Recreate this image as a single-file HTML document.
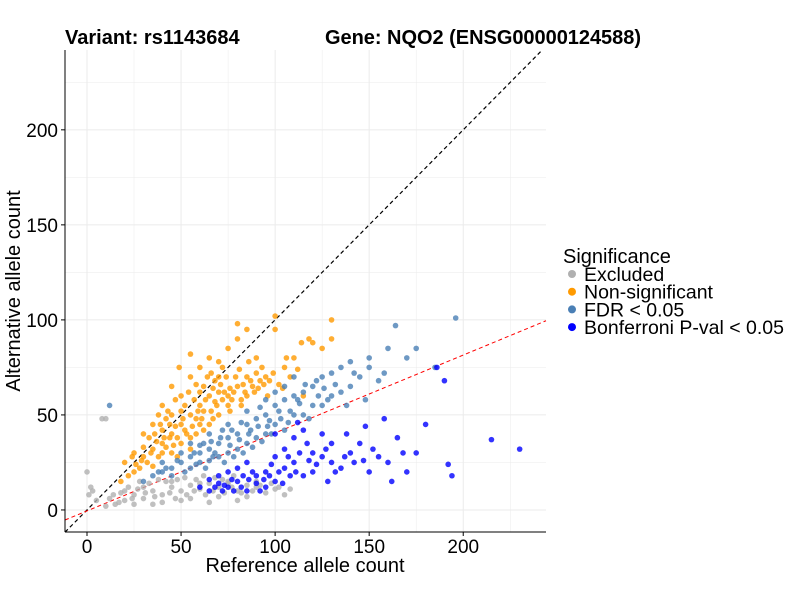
<!DOCTYPE html>
<html><head><meta charset="utf-8"><style>
body{margin:0;background:#fff;font-family:"Liberation Sans",sans-serif}
svg text{font-family:"Liberation Sans",sans-serif}
</style></head><body>
<svg id="c" width="800" height="600">
<text x="65" y="44" font-size="20" font-weight="bold">Variant: rs1143684</text>
<text x="325" y="44" font-size="20" font-weight="bold" textLength="316">Gene: NQO2 (ENSG00000124588)</text>
<g id="grid"></g><g id="lines"></g><g id="pts"></g><g id="axes"></g>
<text x="305" y="572" font-size="20" text-anchor="middle">Reference allele count</text>
<text transform="translate(20,291) rotate(-90)" font-size="20" text-anchor="middle">Alternative allele count</text>
<g id="legend"></g>
</svg>
<script>
const xTicks=[0,50,100,150,200];
const yTicks=[0,50,100,150,200];
const legendLabels=["Excluded","Non-significant","FDR < 0.05","Bonferroni P-val < 0.05"];
const colors=["#b0b0b0","#ff9a00","#4a7fb5","#0000ff"];
const excluded=[[0,20],[2,12],[1,8],[5,5],[10,2],[15,3],[20,5],[25,8],[30,6],[35,10],[40,8],[45,12],[50,10],[55,13],[60,11],[65,14],[70,12],[75,15],[80,10],[85,13],[90,12],[95,9],[100,11],[105,8],[22,12],[28,15],[33,14],[38,16],[42,15],[48,16],[52,17],[58,16],[62,18],[68,17],[72,16],[78,18],[18,9],[12,6],[8,48],[10,48],[3,10],[25,3],[40,4],[55,6],[70,7],[85,7],[17,4],[24,6],[31,9],[36,7],[44,9],[47,6],[53,8],[57,10],[63,8],[67,10],[73,9],[77,12],[82,9],[88,10],[92,13],[98,14],[102,12],[108,11],[30,12],[45,15],[60,14],[75,14],[90,15],[50,5],[65,4],[80,5],[35,3],[20,10],[14,8],[27,11]];
const nonsig=[[20,25],[25,30],[30,40],[35,45],[40,55],[45,50],[50,60],[55,70],[60,75],[65,80],[70,70],[75,85],[80,90],[85,95],[90,80],[95,70],[100,95],[105,75],[110,80],[120,88],[125,85],[130,90],[40,35],[45,40],[50,45],[55,50],[60,55],[65,60],[70,62],[75,60],[80,65],[85,70],[90,72],[30,28],[35,32],[40,42],[45,30],[50,35],[55,38],[60,45],[28,22],[32,25],[38,28],[42,33],[48,38],[52,42],[58,48],[62,52],[68,57],[72,58],[78,62],[82,58],[88,65],[92,68],[96,60],[55,82],[49,75],[45,65],[38,50],[33,38],[25,20],[22,18],[18,15],[100,102],[80,98],[130,100],[115,60],[108,70],[65,45],[70,50],[75,55],[85,60],[48,28],[58,40],[62,65],[72,75],[68,68],[52,55],[35,23],[42,48],[30,33],[36,40],[41,38],[44,45],[46,34],[51,48],[53,40],[56,44],[57,58],[59,52],[61,48],[63,58],[64,70],[66,52],[67,64],[69,55],[71,66],[73,62],[74,70],[76,64],[77,58],[79,70],[81,74],[83,66],[84,62],[86,78],[87,68],[89,62],[91,64],[93,75],[94,66],[97,68],[99,72],[102,66],[104,64],[106,80],[112,74],[114,88],[118,90],[43,52],[47,58],[39,45],[37,36],[34,30],[29,26],[26,24],[24,28],[47,44],[54,62],[60,62],[66,72],[70,78],[58,66],[50,52],[44,38],[40,30],[55,32],[62,42],[67,48],[76,52],[82,55]];
const fdr=[[30,15],[35,18],[40,20],[45,22],[50,25],[55,28],[60,30],[65,32],[70,35],[75,38],[80,40],[85,45],[90,48],[95,50],[100,55],[105,58],[110,60],[115,62],[120,65],[125,70],[130,72],[135,75],[140,78],[150,80],[160,85],[164,97],[196,101],[40,25],[50,30],[60,25],[70,28],[80,32],[90,38],[100,45],[110,50],[120,55],[130,60],[140,65],[55,22],[65,26],[75,30],[85,35],[95,40],[105,42],[115,50],[125,55],[135,62],[145,70],[150,75],[170,80],[45,18],[55,35],[65,40],[75,45],[85,52],[95,58],[100,62],[110,70],[12,55],[62,35],[72,42],[82,46],[92,54],[105,65],[118,48],[128,58],[138,55],[155,68],[175,85],[185,75],[52,20],[58,24],[63,22],[68,30],[73,25],[78,28],[83,30],[88,33],[93,36],[98,40],[103,48],[108,52],[113,56],[123,60],[60,34],[66,36],[71,38],[77,42],[81,37],[87,42],[91,44],[97,47],[102,52],[107,46],[112,58],[122,68],[132,66],[142,72],[48,26],[42,22],[38,20],[57,30],[67,28],[86,40],[96,44],[76,34],[116,66],[126,64],[148,58],[158,72]];
const bonf=[[60,12],[65,10],[70,14],[75,12],[80,15],[85,10],[90,18],[95,20],[100,15],[105,22],[110,25],[115,18],[120,20],[125,28],[130,25],[135,22],[140,30],[145,35],[150,20],[155,28],[160,25],[165,38],[170,20],[175,30],[180,45],[186,75],[190,68],[192,24],[194,18],[215,37],[230,32],[70,18],[75,20],[80,22],[85,25],[90,14],[95,12],[100,28],[105,32],[110,38],[115,42],[120,30],[125,40],[130,35],[65,16],[78,10],[88,20],[98,24],[108,18],[118,26],[128,15],[138,40],[148,44],[158,48],[168,30],[100,40],[112,46],[142,25],[162,15],[68,12],[72,10],[82,12],[86,16],[92,10],[94,16],[97,18],[102,20],[104,14],[107,28],[111,20],[113,30],[117,35],[122,24],[127,32],[132,20],[137,28],[147,26],[152,32],[83,18],[77,16],[73,13]];
const NS="http://www.w3.org/2000/svg";
const L=65,R=546,T=50,B=532,xmin=-11.7,xmax=244,ymin=-11.6,ymax=242;
const sx=v=>L+(v-xmin)/(xmax-xmin)*(R-L);
const sy=v=>B-(v-ymin)/(ymax-ymin)*(B-T);
function mk(tag,a,p){const e=document.createElementNS(NS,tag);for(const k in a)e.setAttribute(k,a[k]);document.getElementById(p).appendChild(e);return e;}
for(let v=0;v<=240;v+=25){
 const w=v%50?0.5:1;
 let g=mk('line',{x1:sx(v),x2:sx(v),y1:T,y2:B,stroke:'#ebebeb','stroke-width':w},'grid');
 
 
 g=mk('line',{x1:L,x2:R,y1:sy(v),y2:sy(v),stroke:'#ebebeb','stroke-width':w},'grid');
 
 
}
let d=mk('line',{x1:sx(xmin),y1:sy(xmin),x2:sx(ymax),y2:sy(ymax),stroke:'#000','stroke-dasharray':'4,3','stroke-width':1.2},'lines');


d=mk('line',{x1:sx(xmin),y1:sy(-0.5+0.41*xmin),x2:sx(xmax),y2:sy(-0.5+0.41*xmax),stroke:'#ff0000','stroke-dasharray':'4,3','stroke-width':1},'lines');


const series=[excluded,nonsig,fdr,bonf];
const names=['excluded-point','nonsig-point','fdr-point','bonferroni-point'];
series.forEach((s,i)=>s.forEach(p=>{
 const c=mk('circle',{cx:sx(p[0]),cy:sy(p[1]),r:2.8,fill:colors[i],'fill-opacity':0.8},'pts');
 
 
}));
let a=mk('line',{x1:L,x2:L,y1:T,y2:B,stroke:'#000','stroke-width':1},'axes');


a=mk('line',{x1:L,x2:R,y1:B,y2:B,stroke:'#000','stroke-width':1},'axes');


xTicks.forEach(v=>{
 mk('line',{x1:sx(v),x2:sx(v),y1:B,y2:B+4,stroke:'#000'},'axes');
 const t=mk('text',{x:sx(v),y:B+21,'font-size':19,'text-anchor':'middle'},'axes');t.textContent=v;
 
 
});
yTicks.forEach(v=>{
 mk('line',{x1:L-4,x2:L,y1:sy(v),y2:sy(v),stroke:'#000'},'axes');
 const t=mk('text',{x:L-7,y:sy(v)+7,'font-size':19,'text-anchor':'end'},'axes');t.textContent=v;
 
 
});
let lt=mk('text',{x:563,y:263,'font-size':20},'legend');lt.textContent='Significance';


legendLabels.forEach((l,i)=>{
 const y=274+i*17.7;
 mk('circle',{cx:572,cy:y,r:4,fill:colors[i]},'legend');
 const t=mk('text',{x:584,y:y+7,'font-size':19.5},'legend');t.textContent=l;
 
 
});
</script>
</body></html>
